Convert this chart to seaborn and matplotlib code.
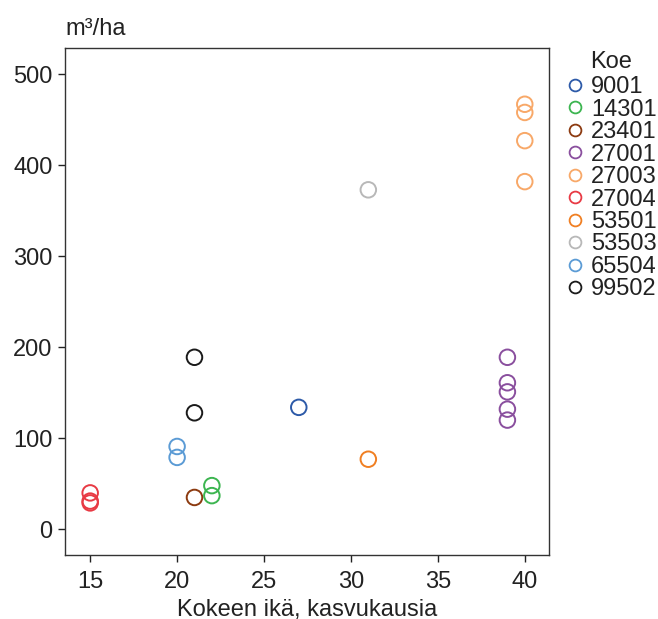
import matplotlib
matplotlib.use("Agg")
import matplotlib.pyplot as plt
from matplotlib.lines import Line2D
import pandas as pd
import seaborn as sns

# Trial stands: age (growing seasons) and volume (m3/ha)
koe = ["27004", "27004", "27004",
       "23401",
       "14301", "14301",
       "65504", "65504",
       "99502", "99502",
       "9001",
       "53501",
       "53503",
       "27001", "27001", "27001", "27001", "27001",
       "27003", "27003", "27003", "27003"]
ika = [15, 15, 15,
       21,
       22, 22,
       20, 20,
       21, 21,
       27,
       31,
       31,
       39, 39, 39, 39, 39,
       40, 40, 40, 40]
tilavuus = [40, 31, 29,
            35,
            48, 37,
            91, 79,
            189, 128,
            134,
            77,
            373,
            189, 161, 151, 132, 120,
            467, 458, 427, 382]

koe_order = ["9001", "14301", "23401", "27001", "27003",
             "27004", "53501", "53503", "65504", "99502"]
koe_colors = ["#2d5aa8", "#3cb550", "#8c3a10", "#8a4f9e", "#f8a868",
              "#e83a44", "#f07f22", "#b8b8b8", "#5b9bd5", "#1a1a1a"]

df = pd.DataFrame({"Koe": koe, "Ika": ika, "Tilavuus": tilavuus})
palette = dict(zip(koe_order, koe_colors))

sns.set_style("ticks")
plt.rcParams["font.family"] = ["Liberation Sans", "DejaVu Sans"]
FS = 17
TXT = "#222222"

fig = plt.figure(figsize=(6.58, 6.19), dpi=100)
ax = fig.add_axes([0.099, 0.103, 0.735, 0.819])

sns.scatterplot(data=df, x="Ika", y="Tilavuus", hue="Koe", hue_order=koe_order,
                palette=palette, s=125, linewidth=1.4, legend=False, ax=ax)

# hollow circles: move fill colour to the edge
coll = ax.collections[0]
fc = coll.get_facecolors()
coll.set_edgecolors(fc)
coll.set_facecolors("none")

ax.set_xlim(13.56, 41.38)
ax.set_ylim(-28.5, 528.5)
ax.set_xticks([15, 20, 25, 30, 35, 40])
ax.set_yticks([0, 100, 200, 300, 400, 500])
ax.tick_params(axis="both", labelsize=FS, length=5, width=1.0, colors=TXT, pad=4)
ax.tick_params(axis="x", pad=6)
for sp in ax.spines.values():
    sp.set_linewidth(1.0)
    sp.set_color("#333333")

ax.set_xlabel("Kokeen ikä, kasvukausia", fontsize=FS, color=TXT, labelpad=5)
ax.set_ylabel("")
ax.text(0.0, 1.026, "m³/ha", transform=ax.transAxes, ha="left", va="baseline",
        fontsize=FS, color=TXT)

handles = [Line2D([], [], marker="o", linestyle="", markersize=8.5,
                  markerfacecolor="none", markeredgecolor=c, markeredgewidth=1.3)
           for c in koe_colors]
leg = ax.legend(handles, koe_order, loc="upper left",
                bbox_to_anchor=(1.029, 0.945), frameon=False, fontsize=FS,
                handletextpad=0.2, labelspacing=0.02, borderpad=0,
                borderaxespad=0, handlelength=1.0)
for t in leg.get_texts():
    t.set_color(TXT)
ax.text(1.0847, 0.972, "Koe", transform=ax.transAxes, ha="left", va="center",
        fontsize=FS, color=TXT)

fig.savefig("out.png", dpi=100)
